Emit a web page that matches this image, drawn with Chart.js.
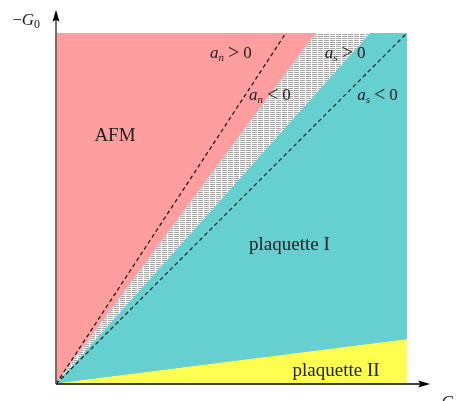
<!DOCTYPE html>
<html>
<head>
<meta charset="utf-8">
<script src="https://cdn.jsdelivr.net/npm/chart.js@4.4.1/dist/chart.umd.min.js"></script>
<style>
  html, body { margin: 0; padding: 0; background: #fff; }
  #wrap { width: 462px; height: 401px; }
</style>
</head>
<body>
<div id="wrap"><canvas id="myChart" width="462" height="401"></canvas></div>
<script>
"use strict";
/* ---------------- DATA ---------------- */
// phase regions (x = -G2, y = -G0), each a closed polygon from the origin
var afmRegion = [[0, 0], [0, 1], [0.74, 1]];
var mixedRegion = [[0, 0], [0.74, 1], [0.895, 1]];
var plaquette1Region = [[0, 0], [0.895, 1], [1, 1], [1, 0.126]];
var plaquette2Region = [[0, 0], [1, 0.126], [1, 0]];
// dashed lines where a_n and a_s change sign
var anLine = [[0, 0], [0.655, 1]];
var asLine = [[0, 0], [1, 1]];
var axisEnd = 1.066;

function pts(arr) {
  return arr.map(function(p) { return { x: p[0], y: p[1] }; });
}

/* hatch pattern for the coexistence wedge */
function hatch() {
  var c = document.createElement("canvas");
  c.width = 6; c.height = 2;
  var g = c.getContext("2d");
  g.fillStyle = "#ffffff";
  g.fillRect(0, 0, 6, 2);
  g.fillStyle = "#a6a6a6";
  g.fillRect(0, 0, 5, 1);
  return g.createPattern(c, "repeat");
}

function region(data, color, border) {
  return {
    data: pts(data),
    backgroundColor: color,
    borderColor: border,
    borderWidth: 1,
    fill: "shape",
    pointRadius: 0,
    tension: 0
  };
}
function dashed(data) {
  return {
    data: pts(data),
    borderColor: "#111111",
    borderWidth: 1.2,
    borderDash: [4, 3],
    fill: false,
    pointRadius: 0,
    tension: 0
  };
}

var SERIF = "'Liberation Serif', 'Times New Roman', serif";
var labels = [
  { x: 0.168, y: 0.692, text: "AFM", align: "center" },
  { x: 0.665, y: 0.382, text: "plaquette I", align: "center" },
  { x: 0.798, y: 0.023, text: "plaquette II", align: "center" }
];
var mathLabels = [
  { x: 0.439, y: 0.929, sym: "a", sub: "n", rest: ["\u003e", "0"] },
  { x: 0.55, y: 0.809, sym: "a", sub: "n", rest: ["\u003c", "0"] },
  { x: 0.766, y: 0.929, sym: "a", sub: "s", rest: ["\u003e", "0"] },
  { x: 0.858, y: 0.809, sym: "a", sub: "s", rest: ["\u003c", "0"] }
];

/* ---------------- axes + text ---------------- */
var decor = {
  id: "decor",
  afterDatasetsDraw: function(chart) {
    var ctx = chart.ctx;
    var xs = chart.scales.x, ys = chart.scales.y;
    var x0 = xs.getPixelForValue(0), y0 = ys.getPixelForValue(0);
    var xt = xs.getPixelForValue(axisEnd), yt = ys.getPixelForValue(axisEnd);
    ctx.save();
    // y axis
    ctx.strokeStyle = "#6e6e6e";
    ctx.lineWidth = 2;
    ctx.beginPath();
    ctx.moveTo(x0, y0);
    ctx.lineTo(x0, yt + 10);
    ctx.stroke();
    ctx.fillStyle = "#000";
    ctx.beginPath();
    ctx.moveTo(x0, yt);
    ctx.lineTo(x0 - 3.5, yt + 12);
    ctx.lineTo(x0, yt + 10);
    ctx.lineTo(x0 + 3.5, yt + 12);
    ctx.closePath();
    ctx.fill();
    // x axis
    ctx.strokeStyle = "#000";
    ctx.lineWidth = 1.6;
    ctx.beginPath();
    ctx.moveTo(x0, y0);
    ctx.lineTo(xt - 10, y0);
    ctx.stroke();
    ctx.beginPath();
    ctx.moveTo(xt, y0);
    ctx.lineTo(xt - 12, y0 - 3.5);
    ctx.lineTo(xt - 10, y0);
    ctx.lineTo(xt - 12, y0 + 3.5);
    ctx.closePath();
    ctx.fill();

    // region names
    ctx.fillStyle = "#222";
    ctx.textBaseline = "alphabetic";
    ctx.font = "19px " + SERIF;
    labels.forEach(function(l) {
      ctx.textAlign = l.align;
      ctx.fillText(l.text, xs.getPixelForValue(l.x), ys.getPixelForValue(l.y));
    });
    ctx.textAlign = "left";

    // a_n / a_s sign labels
    mathLabels.forEach(function(l) {
      var px = xs.getPixelForValue(l.x), py = ys.getPixelForValue(l.y);
      ctx.font = "italic 17px " + SERIF;
      ctx.fillText(l.sym, px, py);
      px += ctx.measureText(l.sym).width;
      ctx.font = "italic 11px " + SERIF;
      ctx.fillText(l.sub, px, py + 3);
      px += ctx.measureText(l.sub).width + 4;
      ctx.font = "20px " + SERIF;
      ctx.fillText(l.rest[0], px, py + 1);
      px += ctx.measureText(l.rest[0]).width + 4;
      ctx.font = "17px " + SERIF;
      ctx.fillText(l.rest[1], px, py);
    });

    // axis names
    function axisName(x, y, sub) {
      var px = xs.getPixelForValue(x), py = ys.getPixelForValue(y);
      ctx.font = "17px " + SERIF;
      ctx.fillText("\u2212", px, py);
      px += ctx.measureText("\u2212").width;
      ctx.font = "italic 17px " + SERIF;
      ctx.fillText("G", px, py);
      px += ctx.measureText("G").width;
      ctx.font = "12px " + SERIF;
      ctx.fillText(sub, px, py + 3);
    }
    axisName(-0.125, 1.023, "0");
    axisName(1.071, -0.066, "2");
    ctx.restore();
  }
};

// Chart.js paints dataset 0 last, so the dashed lines come first
var ctx = document.getElementById("myChart").getContext("2d");
var chart = new Chart(ctx, {
  type: "line",
  data: {
    datasets: [
      dashed(anLine),
      dashed(asLine),
      region(mixedRegion, hatch(), "rgba(0,0,0,0)"),
      region(plaquette2Region, "#ffff50", "#ffff50"),
      region(plaquette1Region, "#66cfcf", "#66cfcf"),
      region(afmRegion, "#ff9e9e", "#ff9e9e")
    ]
  },
  options: {
    responsive: false,
    animation: false,
    events: [],
    layout: { padding: { left: 56, right: 55, top: 33, bottom: 17 } },
    scales: {
      x: { type: "linear", min: 0, max: 1, display: false },
      y: { type: "linear", min: 0, max: 1, display: false }
    },
    plugins: {
      legend: { display: false },
      tooltip: { enabled: false }
    }
  },
  plugins: [decor]
});
</script>
</body>
</html>
